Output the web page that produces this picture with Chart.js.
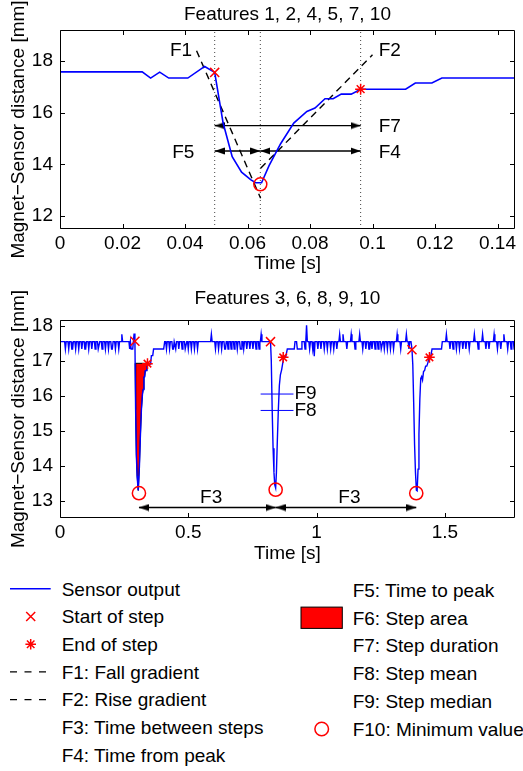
<!DOCTYPE html>
<html><head><meta charset="utf-8">
<script src="https://cdn.jsdelivr.net/npm/chart.js@4.4.0/dist/chart.umd.min.js"></script>
<style>
html,body{margin:0;padding:0;background:#fff;width:523px;height:771px;overflow:hidden}
#top{position:absolute;left:0;top:0}
#bot{position:absolute;left:0;top:280px}
#legend{position:absolute;left:0;top:570px}
</style></head><body>
<canvas id="top" width="523" height="280"></canvas>
<canvas id="bot" width="523" height="290"></canvas>
<svg id="legend" width="523" height="201" xmlns="http://www.w3.org/2000/svg"></svg>
<script>
// ================= DATA =================
// --- Top panel: zoom of the first step ---
const topTitle = 'Features 1, 2, 4, 5, 7, 10';
const topTime  = [0, 0.0263, 0.029, 0.0319, 0.0348, 0.0409, 0.0463, 0.0495, 0.0522, 0.0551, 0.0581, 0.0611, 0.0626, 0.0645, 0.0669, 0.0706, 0.0748, 0.079, 0.0816, 0.0848, 0.0874, 0.09, 0.0932, 0.0962, 0.1106, 0.1137, 0.119, 0.1222, 0.1456];
const topValue = [17.58, 17.58, 17.34, 17.57, 17.34, 17.34, 17.79, 17.56, 15.6, 14.3, 13.7, 13.4, 13.29, 13.29, 13.95, 14.8, 15.6, 16.05, 16.18, 16.54, 16.54, 16.72, 16.72, 16.91, 16.91, 17.15, 17.15, 17.34, 17.34];
const topStart = [[0.0495, 17.56]];
const topEnd   = [[0.0962, 16.91]];
const topMin   = [[0.0641, 13.23]];
const topF1 = [[0.0437, 18.4], [0.0642, 12.69]];
const topF2 = [[0.0642, 13.85], [0.1, 18.24]];
const topF7 = [[0.0495, 15.5], [0.0962, 15.5]];
const topF5 = [[0.0495, 14.52], [0.0641, 14.52]];
const topF4 = [[0.0641, 14.52], [0.0962, 14.52]];
const topXTicks = [0, 0.02, 0.04, 0.06, 0.08, 0.1, 0.12, 0.14];
const topXTickLabels = ['0', '0.02', '0.04', '0.06', '0.08', '0.1', '0.12', '0.14'];
const topYTicks = [12, 14, 16, 18];
const topYTickLabels = ['12', '14', '16', '18'];
const topXRange = [0, 0.1456];
const topYRange = [11.5, 19.2];

// --- Bottom panel: three steps ---
const botTitle = 'Features 3, 6, 8, 9, 10';
const B = 17.55, D = 17.34, S = 17.76;   // baseline, dip and spike levels
const botQuietA = [[0,B],[0.018,B],[0.021,D],[0.024,B],[0.031,B],[0.034,D],[0.037,B],[0.043,B],[0.046,D],[0.049,D],[0.052,B],[0.058,B],[0.061,D],[0.064,B],[0.07,B],[0.073,D],[0.076,B],[0.082,B],[0.085,D],[0.088,B],[0.094,B],[0.097,D],[0.1,D],[0.103,B],[0.109,B],[0.112,D],[0.115,B],[0.121,B],[0.124,D],[0.127,B],[0.134,B],[0.137,D],[0.14,B],[0.146,B],[0.149,D],[0.152,D],[0.155,B],[0.161,B],[0.164,D],[0.167,B],[0.174,B],[0.177,D],[0.18,B],[0.186,B],[0.189,D],[0.192,B],[0.198,B],[0.201,D],[0.204,D],[0.207,B],[0.213,B],[0.216,D],[0.219,B],[0.226,B],[0.229,D],[0.232,B],[0.238,B],[0.241,S],[0.244,B]];
const botStepA = [[0.2688,B],[0.2715,D],[0.2744,B],[0.2773,D],[0.2834,D],[0.2888,17.78],[0.292,17.56],[0.2947,15.6],[0.2976,14.3],[0.3006,13.7],[0.3036,13.4],[0.3051,13.29],[0.307,13.29],[0.3094,13.95],[0.3131,14.8],[0.3173,15.6],[0.3215,16.05],[0.3241,16.18],[0.3273,16.54],[0.3299,16.54],[0.3325,16.72],[0.3357,16.72],[0.3387,16.91],[0.3531,16.91],[0.3562,17.15],[0.3615,17.15],[0.3647,D],[0.404,D],[0.408,B]];
const botQuietB = [[0.412,B],[0.415,D],[0.418,B],[0.424,B],[0.427,D],[0.43,B],[0.436,B],[0.439,D],[0.442,D],[0.445,B],[0.448,B],[0.451,D],[0.454,B],[0.46,B],[0.463,D],[0.466,B],[0.473,B],[0.476,D],[0.479,B],[0.485,B],[0.488,D],[0.491,D],[0.494,B],[0.497,B],[0.5,D],[0.503,B],[0.509,B],[0.512,D],[0.515,B],[0.521,B],[0.524,D],[0.527,B],[0.533,B],[0.536,D],[0.539,B],[0.587,B],[0.59,S],[0.593,B],[0.603,B],[0.606,D],[0.609,B],[0.615,B],[0.618,D],[0.621,B],[0.627,B],[0.63,D],[0.633,B],[0.639,B],[0.642,D],[0.645,D],[0.648,B],[0.652,B],[0.655,D],[0.658,B],[0.664,B],[0.667,D],[0.67,B],[0.676,B],[0.679,D],[0.682,B],[0.688,B],[0.691,D],[0.694,B],[0.7,B],[0.703,D],[0.706,D],[0.709,B],[0.713,B],[0.716,D],[0.719,B],[0.725,B],[0.728,D],[0.731,B],[0.737,B],[0.74,D],[0.743,B],[0.749,B],[0.752,D],[0.755,B],[0.761,B],[0.764,D],[0.767,B],[0.773,B],[0.776,D],[0.779,B],[0.781,B],[0.784,S],[0.787,B]];
const botStepB = [[0.8205,B],[0.8235,17.0],[0.827,15.6],[0.8305,14.5],[0.834,13.8],[0.837,13.45],[0.8405,13.36],[0.8435,13.8],[0.847,14.7],[0.851,15.6],[0.855,16.3],[0.859,16.6],[0.864,16.75],[0.868,16.93],[0.872,17.1],[0.88,17.12],[0.886,D],[0.913,D]];
const botQuietC = [[0.916,B],[0.922,B],[0.925,D],[0.94,D],[0.943,B],[0.952,B],[0.955,D],[0.958,B],[0.961,18.02],[0.964,B],[0.97,B],[0.973,D],[0.976,B],[0.982,B],[0.985,D],[0.988,B],[0.991,17.13],[0.994,B],[1.002,B],[1.005,D],[1.008,B],[1.014,B],[1.017,D],[1.02,B],[1.027,B],[1.03,D],[1.033,B],[1.039,B],[1.042,D],[1.045,B],[1.052,B],[1.055,D],[1.058,B],[1.064,B],[1.067,D],[1.07,B],[1.076,B],[1.079,D],[1.082,B],[1.087,B],[1.09,S],[1.093,B],[1.1,B],[1.103,S],[1.106,B],[1.115,B],[1.118,D],[1.121,B],[1.132,B],[1.135,S],[1.138,B],[1.147,B],[1.15,D],[1.153,B],[1.165,B],[1.168,S],[1.171,B],[1.177,B],[1.18,D],[1.183,B],[1.189,B],[1.192,D],[1.195,B],[1.201,B],[1.204,D],[1.207,D],[1.21,B],[1.213,B],[1.216,D],[1.219,B],[1.225,B],[1.228,D],[1.231,B],[1.237,B],[1.24,D],[1.243,B],[1.249,B],[1.252,D],[1.255,D],[1.258,B],[1.261,B],[1.264,D],[1.267,B],[1.273,B],[1.276,D],[1.279,B],[1.285,B],[1.288,D],[1.291,B],[1.297,B],[1.3,D],[1.303,B],[1.311,B],[1.314,S],[1.317,B],[1.325,B],[1.328,D],[1.331,B],[1.347,B],[1.35,S],[1.353,B],[1.357,B],[1.36,D],[1.363,B],[1.368,B]];
const botStepC = [[1.3718,D],[1.375,16.9],[1.3785,15.8],[1.382,14.6],[1.3855,13.8],[1.389,13.3],[1.392,13.28],[1.3955,13.9],[1.399,14.9],[1.4025,15.9],[1.406,16.5],[1.4095,16.55],[1.413,16.45],[1.417,16.7],[1.421,16.72],[1.425,16.85],[1.4295,16.85],[1.434,16.95],[1.4385,17.1],[1.445,17.12],[1.45,D],[1.487,D],[1.49,B]];
const botQuietD = [[1.503,B],[1.506,S],[1.509,B],[1.517,B],[1.52,D],[1.523,B],[1.529,B],[1.532,D],[1.535,B],[1.542,B],[1.545,D],[1.548,B],[1.554,B],[1.557,D],[1.56,B],[1.567,B],[1.57,D],[1.573,B],[1.579,B],[1.582,D],[1.585,B],[1.592,B],[1.595,D],[1.598,B],[1.612,B],[1.615,S],[1.618,B],[1.627,B],[1.63,D],[1.633,B],[1.644,B],[1.647,S],[1.65,B],[1.657,B],[1.66,D],[1.663,B],[1.669,B],[1.672,D],[1.675,B],[1.689,B],[1.692,S],[1.695,B],[1.702,B],[1.705,D],[1.708,B],[1.715,B],[1.718,D],[1.721,B],[1.727,B],[1.73,S],[1.733,B],[1.742,B],[1.745,D],[1.748,B],[1.755,B],[1.758,D],[1.761,B],[1.767,B],[1.77,D],[1.773,B]];
const botStart = [[0.292,17.56],[0.8205,17.55],[1.3718,17.32]];
const botEnd   = [[0.341,16.92],[0.87,17.1],[1.44,17.1]];
const botMin   = [[0.3077,13.21],[0.8405,13.31],[1.3885,13.21]];
const botArea  = [[0.2929,16.93],[0.2947,15.6],[0.2976,14.3],[0.3006,13.7],[0.3036,13.4],[0.3051,13.29],[0.307,13.29],[0.3094,13.95],[0.3131,14.8],[0.3173,15.6],[0.3215,16.05],[0.3241,16.18],[0.3273,16.54],[0.3299,16.54],[0.3325,16.72],[0.3357,16.72],[0.3387,16.93]];
const botAreaLevel = 16.93;
const botMedian = [[0.782,16.05],[0.91,16.05]];
const botMean   = [[0.782,15.58],[0.91,15.58]];
const botF3a = [[0.3077,12.8],[0.8405,12.8]];
const botF3b = [[0.8405,12.8],[1.3885,12.8]];
const botXTicks = [0, 0.5, 1, 1.5];
const botXTickLabels = ['0', '0.5', '1', '1.5'];
const botYTicks = [13, 14, 15, 16, 17, 18];
const botYTickLabels = ['13', '14', '15', '16', '17', '18'];
const botXRange = [0, 1.773];
const botYRange = [12.5, 18.17];

const yTitle = 'Magnet\u2212Sensor distance [mm]';
const xTitle = 'Time [s]';
const legendLeft  = ['Sensor output', 'Start of step', 'End of step', 'F1: Fall gradient', 'F2: Rise gradient', 'F3: Time between steps', 'F4: Time from peak'];
const legendRight = ['F5: Time to peak', 'F6: Step area', 'F7: Step duration', 'F8: Step mean', 'F9: Step median', 'F10: Minimum value'];

const topLabels = [
  {text: 'F1', x: 0.0423, y: 18.38, align: 'right'},
  {text: 'F2', x: 0.102,  y: 18.38, align: 'left'},
  {text: 'F7', x: 0.102,  y: 15.47, align: 'left'},
  {text: 'F4', x: 0.102,  y: 14.45, align: 'left'},
  {text: 'F5', x: 0.043,  y: 14.45, align: 'right'}
];
const botLabels = [
  {text: 'F3', x: 0.589, y: 13.07, align: 'center'},
  {text: 'F3', x: 1.128, y: 13.07, align: 'center'},
  {text: 'F9', x: 0.914, y: 16.05, align: 'left'},
  {text: 'F8', x: 0.914, y: 15.56, align: 'left'}
];

// ================= RENDERING =================
const FONT = "'Liberation Sans', Arial, Helvetica, sans-serif";
Chart.defaults.font.family = FONT;
Chart.defaults.font.size = 19;
Chart.defaults.color = '#000';
Chart.defaults.animation = false;

const toXY = arr => arr.map(p => ({x: p[0], y: p[1]}));

function makeHead(dir) {
  const L = 10, W = 7;
  const c = document.createElement('canvas');
  c.width = 2 * L; c.height = 8;
  const g = c.getContext('2d');
  g.fillStyle = '#000';
  const cy = c.height / 2;
  g.beginPath();
  if (dir > 0) { g.moveTo(L, cy); g.lineTo(0, cy - W / 2); g.lineTo(0, cy + W / 2); }
  else { g.moveTo(L, cy); g.lineTo(2 * L, cy - W / 2); g.lineTo(2 * L, cy + W / 2); }
  g.closePath(); g.fill();
  return c;
}
const headL = makeHead(-1), headR = makeHead(1);

function lineDS(pts, color, width, dash, order) {
  return {data: toXY(pts), showLine: true, borderColor: color, borderWidth: width, borderDash: dash || [], pointRadius: 0, order};
}
function arrowDS(pts, order) {
  return {data: toXY(pts), showLine: true, borderColor: '#000', borderWidth: 1.4, pointRadius: 1, pointStyle: [headL, headR], order};
}
function markerDS(pts, style, radius, order) {
  return {data: toXY(pts), showLine: false, pointStyle: style, pointRadius: radius, borderColor: '#f00', backgroundColor: 'rgba(0,0,0,0)', pointBorderWidth: 1.5, order};
}

const framePlugin = {
  id: 'frameTicks',
  afterDatasetsDraw(chart) {
    const {ctx, chartArea: a, scales: {x, y}} = chart;
    const L = Math.round(a.left) + 0.5, R = Math.round(a.right) - 0.5;
    const T = Math.round(a.top) + 0.5, Bm = Math.round(a.bottom) - 0.5;
    ctx.save();
    ctx.strokeStyle = '#000'; ctx.lineWidth = 1;
    ctx.beginPath();
    ctx.rect(L, T, R - L, Bm - T);
    const tl = 4.5;
    x.ticks.forEach(t => {
      const p = Math.round(x.getPixelForValue(t.value)) + 0.5;
      ctx.moveTo(p, Bm); ctx.lineTo(p, Bm - tl);
      ctx.moveTo(p, T); ctx.lineTo(p, T + tl);
    });
    y.ticks.forEach(t => {
      const p = Math.round(y.getPixelForValue(t.value)) + 0.5;
      ctx.moveTo(L, p); ctx.lineTo(L + tl, p);
      ctx.moveTo(R, p); ctx.lineTo(R - tl, p);
    });
    ctx.stroke();
    ctx.restore();
  }
};
function labelPlugin(items) {
  return {
    id: 'featureLabels',
    afterDatasetsDraw(chart) {
      const {ctx, scales: {x, y}} = chart;
      ctx.save();
      ctx.font = '19px ' + FONT;
      ctx.fillStyle = '#000';
      ctx.textBaseline = 'middle';
      items.forEach(it => {
        ctx.textAlign = it.align;
        ctx.fillText(it.text, x.getPixelForValue(it.x), y.getPixelForValue(it.y));
      });
      ctx.restore();
    }
  };
}

function baseOptions(title, titlePad, xr, yr, xt, xtl, yt, ytl, xH) {
  return {
    responsive: false, animation: false, events: [],
    layout: {padding: {left: 0, right: 2, top: 0, bottom: 0}},
    plugins: {
      legend: {display: false}, tooltip: {enabled: false},
      title: {display: true, text: title, fullSize: false, color: '#000', font: {size: 19, weight: 'normal'}, padding: titlePad}
    },
    scales: {
      x: {type: 'linear', min: xr[0], max: xr[1],
          grid: {display: false, drawTicks: false}, border: {display: false},
          afterBuildTicks: s => { s.ticks = xt.map(v => ({value: v})); },
          afterFit: s => { s.height = xH; },
          ticks: {padding: 3.3, autoSkip: false, maxRotation: 0, minRotation: 0, color: '#000', callback: (v, i) => xtl[i]},
          title: {display: true, text: xTitle, color: '#000', font: {size: 19}, padding: {top: 0, bottom: 4.9}}},
      y: {type: 'linear', min: yr[0], max: yr[1],
          grid: {display: false, drawTicks: false}, border: {display: false},
          afterBuildTicks: s => { s.ticks = yt.map(v => ({value: v})); },
          afterFit: s => { s.width = 60; },
          ticks: {padding: 7, autoSkip: false, color: '#000', callback: (v, i) => ytl[i]},
          title: {display: true, text: yTitle, color: '#000', font: {size: 19}, padding: {top: 7, bottom: 0}}}
    }
  };
}

// ---- Top chart ----
const topSignal = topTime.map((t, i) => [t, topValue[i]]);
const topVert = [topStart[0][0], topMin[0][0], topEnd[0][0]].map(t => [[t, topYRange[0]], [t, topYRange[1]]]);
new Chart(document.getElementById('top'), {
  type: 'scatter',
  data: {datasets: [
    markerDS(topStart, 'crossRot', 6.4, 0),
    markerDS(topEnd, 'star', 5.5, 0),
    markerDS(topMin, 'circle', 6.5, 0),
    lineDS(topSignal, '#0000ff', 1.6, null, 2),
    lineDS(topF1, '#000', 1.4, [7, 5], 3),
    lineDS(topF2, '#000', 1.4, [7, 5], 3),
    arrowDS(topF7, 3),
    arrowDS(topF5, 3),
    arrowDS(topF4, 3),
    lineDS(topVert[0], '#444', 1, [1, 3], 5),
    lineDS(topVert[1], '#444', 1, [1, 3], 5),
    lineDS(topVert[2], '#444', 1, [1, 3], 5)
  ]},
  options: baseOptions(topTitle, {top: 3.5, bottom: 3.7}, topXRange, topYRange, topXTicks, topXTickLabels, topYTicks, topYTickLabels, 51),
  plugins: [labelPlugin(topLabels), framePlugin]
});

// ---- Bottom chart ----
const botSignal = [].concat(botQuietA, botStepA, botQuietB, botStepB, botQuietC, botStepC, botQuietD);
const areaTop = [[botArea[0][0], botAreaLevel], [botArea[botArea.length - 1][0], botAreaLevel]];
new Chart(document.getElementById('bot'), {
  type: 'scatter',
  data: {datasets: [
    markerDS(botStart, 'crossRot', 6.4, 0),
    markerDS(botEnd, 'star', 5.3, 0),
    markerDS(botMin, 'circle', 6.6, 0),
    lineDS(botSignal, '#0000ff', 1.4, null, 2),
    lineDS(botMedian, '#0000ff', 1, null, 2),
    lineDS(botMean, '#0000ff', 1, null, 2),
    arrowDS(botF3a, 3),
    arrowDS(botF3b, 3),
    lineDS(areaTop, '#000', 1, null, 4),
    Object.assign(lineDS(botArea, '#000', 1, null, 5), {fill: {value: botAreaLevel}, backgroundColor: '#ff0000'})
  ]},
  options: baseOptions(botTitle, {top: 7.7, bottom: 9.5}, botXRange, botYRange, botXTicks, botXTickLabels, botYTicks, botYTickLabels, 52),
  plugins: [labelPlugin(botLabels), framePlugin]
});

// ---- Legend (SVG) ----
(function buildLegend() {
  const svg = document.getElementById('legend');
  const NS = 'http://www.w3.org/2000/svg';
  const el = (name, attrs, txt) => {
    const e = document.createElementNS(NS, name);
    for (const k in attrs) e.setAttribute(k, attrs[k]);
    if (txt) e.textContent = txt;
    svg.appendChild(e);
    return e;
  };
  const rowL = i => 18.8 + 27.7 * i;
  const rowR = i => 20 + 27.8 * i;
  legendLeft.forEach((t, i) => el('text', {x: 61.7, y: rowL(i) + 6.8, 'font-family': FONT, 'font-size': 19, fill: '#000'}, t));
  legendRight.forEach((t, i) => el('text', {x: 352.7, y: rowR(i) + 6.8, 'font-family': FONT, 'font-size': 19, fill: '#000'}, t));
  // symbols
  el('line', {x1: 10, y1: rowL(0), x2: 50.7, y2: rowL(0), stroke: '#0000ff', 'stroke-width': 1.5});
  const cx = 30.7, s = 4.5, cy1 = rowL(1);
  el('path', {d: `M${cx - s} ${cy1 - s}L${cx + s} ${cy1 + s}M${cx - s} ${cy1 + s}L${cx + s} ${cy1 - s}`, stroke: '#f00', 'stroke-width': 1.5, fill: 'none'});
  const cy2 = rowL(2), r = 5.3, q = r * Math.SQRT1_2;
  el('path', {d: `M${cx - r} ${cy2}L${cx + r} ${cy2}M${cx} ${cy2 - r}L${cx} ${cy2 + r}M${cx - q} ${cy2 - q}L${cx + q} ${cy2 + q}M${cx - q} ${cy2 + q}L${cx + q} ${cy2 - q}`, stroke: '#f00', 'stroke-width': 1.5, fill: 'none'});
  [3, 4].forEach(i => el('line', {x1: 10, y1: rowL(i), x2: 47, y2: rowL(i), stroke: '#000', 'stroke-width': 1.4, 'stroke-dasharray': '7 7.5'}));
  el('rect', {x: 301, y: rowR(1) - 10.7, width: 41.3, height: 21.3, fill: '#ff0000', stroke: '#000', 'stroke-width': 1});
  el('circle', {cx: 321.7, cy: rowR(5), r: 6.8, fill: 'none', stroke: '#f00', 'stroke-width': 1.5});
})();
</script>
</body></html>
